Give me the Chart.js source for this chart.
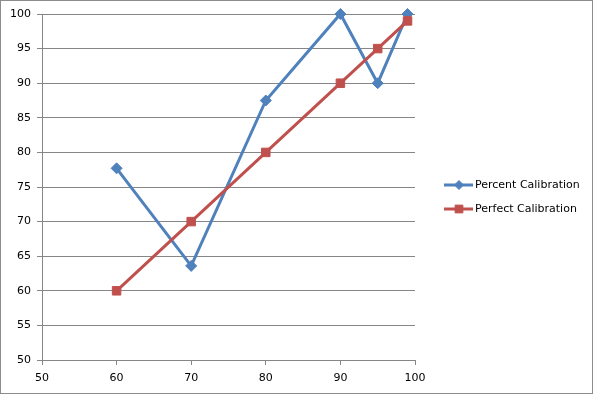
<!DOCTYPE html>
<html>
<head>
<meta charset="utf-8">
<script src="https://cdn.jsdelivr.net/npm/chart.js@4"></script>
<style>
  html, body { margin: 0; padding: 0; background: #fff; }
  #wrap { width: 593px; height: 394px; }
</style>
</head>
<body>
<div id="wrap"><canvas id="chart" width="593" height="394"></canvas></div>
<script>
// data
const xValues = [60, 70, 80, 90, 95, 99];
const percentCalibration = [77.7, 63.6, 87.5, 100, 90, 100];
const perfectCalibration = [60, 70, 80, 90, 95, 99];
const seriesNames = ["Percent Calibration", "Perfect Calibration"];
const seriesColors = ["#4F81BD", "#C0504D"];
const seriesMarkers = ["rectRot", "rect"];

const FONT = "DejaVu Sans";

function toPoints(ys) {
  return xValues.map((x, i) => ({ x: x, y: ys[i] }));
}

// outer frame + Excel like legend with line and marker
const frameAndLegend = {
  id: "frameAndLegend",
  afterDraw(chart) {
    const ctx = chart.ctx;
    ctx.save();
    ctx.strokeStyle = "#8c8c8c";
    ctx.lineWidth = 1;
    ctx.strokeRect(0.5, 0.5, chart.width - 1, chart.height - 1);

    const rows = [185, 209];
    ctx.font = "11px '" + FONT + "'";
    ctx.textBaseline = "middle";
    ctx.fillStyle = "#000";
    rows.forEach((y, i) => {
      ctx.strokeStyle = seriesColors[i];
      ctx.lineWidth = 3;
      ctx.beginPath();
      ctx.moveTo(444, y);
      ctx.lineTo(473, y);
      ctx.stroke();
      ctx.fillStyle = seriesColors[i];
      ctx.strokeStyle = seriesColors[i];
      ctx.lineWidth = 1;
      Chart.helpers.drawPoint(ctx, { pointStyle: seriesMarkers[i], radius: i === 0 ? 4.5 : 5.5, rotation: 0, borderWidth: 1 }, 459, y);
      ctx.fillStyle = "#000";
      ctx.fillText(seriesNames[i], 475, y);
    });
    ctx.restore();
  }
};

new Chart(document.getElementById("chart"), {
  type: "line",
  data: {
    datasets: [
      {
        label: seriesNames[0],
        data: toPoints(percentCalibration),
        borderColor: seriesColors[0],
        backgroundColor: seriesColors[0],
        borderWidth: 3,
        pointStyle: seriesMarkers[0],
        pointRadius: 5.5,
        pointBorderWidth: 1,
        tension: 0,
        clip: false,
        order: 1
      },
      {
        label: seriesNames[1],
        data: toPoints(perfectCalibration),
        borderColor: seriesColors[1],
        backgroundColor: seriesColors[1],
        borderWidth: 3,
        pointStyle: seriesMarkers[1],
        pointRadius: 6,
        pointBorderWidth: 1,
        tension: 0,
        clip: false,
        order: 0
      }
    ]
  },
  options: {
    responsive: false,
    animation: false,
    events: [],
    layout: { padding: { top: 14, right: 178, left: 0, bottom: 0 } },
    plugins: {
      legend: { display: false },
      tooltip: { enabled: false }
    },
    scales: {
      x: {
        type: "linear",
        min: 50,
        max: 100,
        afterFit: s => { s.height = 34; },
        ticks: {
          stepSize: 10,
          color: "#000",
          padding: 7,
          font: { family: FONT, size: 11 },
          maxRotation: 0
        },
        grid: {
          drawOnChartArea: false,
          drawTicks: true,
          tickLength: 5,
          color: "#868686"
        },
        border: { display: true, color: "#868686", width: 1 }
      },
      y: {
        type: "linear",
        min: 50,
        max: 100,
        afterFit: s => { s.width = 42; },
        ticks: {
          stepSize: 5,
          color: "#000",
          padding: 6,
          font: { family: FONT, size: 11 }
        },
        grid: {
          color: "#868686",
          tickLength: 5
        },
        border: { display: true, color: "#868686", width: 1 }
      }
    }
  },
  plugins: [frameAndLegend]
});
</script>
</body>
</html>
